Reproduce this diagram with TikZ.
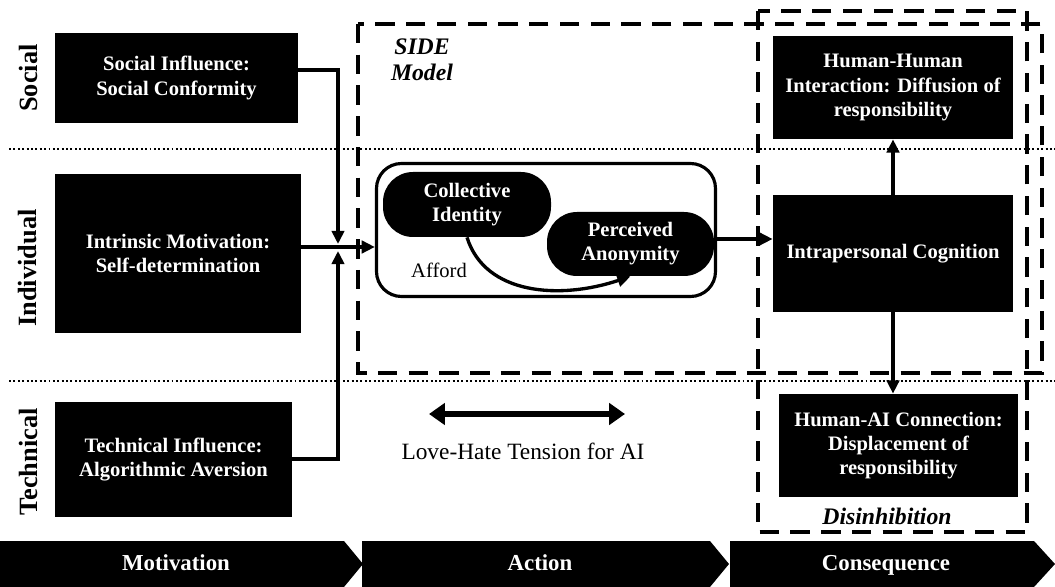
\documentclass[tikz,border=0pt]{standalone}
\usepackage{fontspec}
\setmainfont{Liberation Serif}
\usetikzlibrary{arrows.meta,calc}
\begin{document}
\begin{tikzpicture}[x=0.02cm,y=-0.02cm,
  blk/.style={draw=none,fill=black,text=white,font=\fontsize{11.7}{13.7}\selectfont\bfseries,align=center,inner sep=0pt},
  pill/.style={blk,rounded corners=0.6cm},
  conn/.style={line width=1.9pt,-{Triangle[length=7.5pt,width=7pt]}},
  dashbox/.style={line width=2.3pt,dash pattern=on 11pt off 6.5pt},
  dotline/.style={line width=1.1pt,dash pattern=on 1.1pt off 1.4pt},
  rowlab/.style={rotate=90,font=\fontsize{15}{18}\selectfont\bfseries},
  chev/.style={fill=black},
  chevlab/.style={text=white,font=\fontsize{13}{15}\selectfont\bfseries,anchor=base},
  italab/.style={font=\fontsize{13.5}{15}\selectfont\bfseries\itshape,align=center}
]
\useasboundingbox (0,0) rectangle (1055,587);

% layer separators
\draw[dotline] (9,149) -- (1055,149);
\draw[dotline] (9,381) -- (1055,381);

% row labels
\node[rowlab] (rsoc) at (28,78) {Social};
\node[rowlab] (rind) at (28,268) {Individual};
\node[rowlab] (rtec) at (28,462) {Technical};

% dashed frames
\draw[dashbox] (358,24) rectangle (1042,373);
\draw[dashbox] (758,11) rectangle (1027,532);
\node[italab] (side) at (422,60) {SIDE\\Model};
\node[italab] (dis) at (887,516) {Disinhibition};

% left boxes
\node[blk,minimum width=243*0.02cm,minimum height=90*0.02cm] (soc) at (176.5,78) {Social Influence:\\Social Conformity};
\node[blk,minimum width=246*0.02cm,minimum height=159*0.02cm] (intr) at (178,253.5) {Intrinsic Motivation:\\Self-determination};
\node[blk,minimum width=237*0.02cm,minimum height=115*0.02cm] (tech) at (173.5,459.5) {Technical Influence:\\Algorithmic Aversion};

% afford box
\node[draw,line width=1.8pt,rounded corners=0.5cm,minimum width=339*0.02cm,minimum height=133*0.02cm,inner sep=0pt] (afford) at (546,230) {};
\node[pill,minimum width=168*0.02cm,minimum height=65*0.02cm] (ci) at (467,204.5) {Collective\\Identity};
\node[pill,minimum width=167*0.02cm,minimum height=64*0.02cm] (pa) at (630.5,244) {Perceived\\Anonymity};
\node[font=\fontsize{11.7}{13.7}\selectfont] (aff) at (439,270) {Afford};

% right boxes
\node[blk,minimum width=240*0.02cm,minimum height=103*0.02cm] (hh) at (893,87.5) {Human-Human\\Interaction: Diffusion of\\responsibility};
\node[blk,minimum width=240*0.02cm,minimum height=117*0.02cm] (ic) at (893,253.5) {Intrapersonal Cognition};
\node[blk,minimum width=239*0.02cm,minimum height=103*0.02cm] (hai) at (898.5,445.5) {Human-AI Connection:\\Displacement of\\responsibility};

% connectors
\coordinate (jdown) at (338,244);
\coordinate (jup) at (338,251);
\coordinate (jmid) at (338,247);
\draw[conn] (soc.east |- 0,70) -| (jdown);
\draw[conn] (tech.east |- 0,459) -| (jup);
\draw[conn] (intr.east |- jmid) -- (afford.west |- jmid);
\draw[conn] (ci.south) .. controls (485,295) and (560,300) .. (pa.south);
\draw[conn] (afford.east |- 0,239) -- (ic.west |- 0,239);
\draw[conn] (ic.north) -- (hh.south);
\draw[conn] (ic.south) -- (ic.south |- hai.north);

% love-hate
\coordinate (lha) at (429,414);
\coordinate (lhb) at (625,414);
\draw[line width=3.4pt,{Triangle[length=9pt,width=12pt]}-{Triangle[length=9pt,width=12pt]}] (lha) -- (lhb);
\node[font=\fontsize{13.3}{15}\selectfont] (lht) at (523,451) {Love-Hate Tension for AI};

% bottom chevrons
\fill[chev] (0,541) -- (344,541) -- (363,564) -- (344,587) -- (0,587) -- cycle;
\fill[chev] (362,541) -- (710,541) -- (729,564) -- (710,587) -- (362,587) -- cycle;
\fill[chev] (730,541) -- (1034,541) -- (1055,564) -- (1034,587) -- (730,587) -- cycle;
\node[chevlab] (mot) at (176,570) {Motivation};
\node[chevlab] (act) at (540,570) {Action};
\node[chevlab] (cons) at (886,570) {Consequence};
\end{tikzpicture}
\end{document}
